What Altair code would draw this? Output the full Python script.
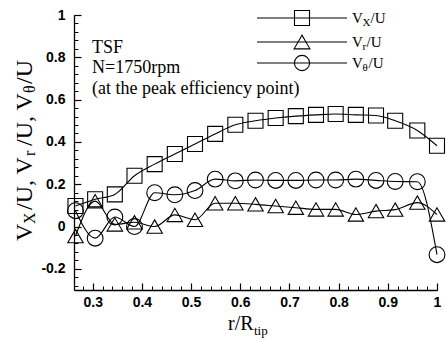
import altair as alt
import pandas as pd

# ---- data ----
r_pos = [0.265, 0.305, 0.345, 0.385, 0.426, 0.467, 0.508, 0.549, 0.590, 0.631,
         0.672, 0.713, 0.754, 0.794, 0.835, 0.876, 0.915, 0.960, 1.000]
vx_u = [0.097, 0.129, 0.152, 0.240, 0.295, 0.343, 0.390, 0.438, 0.481, 0.500,
        0.513, 0.522, 0.528, 0.532, 0.528, 0.525, 0.500, 0.454, 0.382]
vr_u = [-0.045, 0.120, 0.010, 0.020, 0.000, 0.055, 0.032, 0.110, 0.110, 0.105,
        0.097, 0.089, 0.081, 0.081, 0.057, 0.073, 0.080, 0.113, 0.057]
vt_u = [0.075, -0.055, 0.045, 0.000, 0.160, 0.150, 0.170, 0.224, 0.216, 0.220,
        0.218, 0.218, 0.220, 0.220, 0.224, 0.218, 0.213, 0.212, -0.133]
series_names = ["Vx", "Vr", "Vt"]
series_shapes = ["square", "triangle-up", "circle"]
series_sizes = [225, 250, 230]

y_major = [-0.2, 0, 0.2, 0.4, 0.6, 0.8, 1.0]
y_minor = [round(-0.28 + 0.04 * i, 2) for i in range(33)]
x_major = [0.3, 0.4, 0.5, 0.6, 0.7, 0.8, 0.9, 1.0]
x_minor = [round(0.28 + 0.02 * i, 2) for i in range(37)]

W, H = 363, 275
SERIF = "Liberation Serif"
SANS = "Liberation Sans"

rows = []
for name, vals in zip(series_names, [vx_u, vr_u, vt_u]):
    for rr, v in zip(r_pos, vals):
        rows.append({"r": rr, "v": v, "s": name})
df = pd.DataFrame(rows)

xscale = alt.Scale(domain=[0.262, 1.0], nice=False, zero=False)
yscale = alt.Scale(domain=[-0.3, 1.0], nice=False, zero=False)

# major axes: domain, labels and inward ticks (negative tick length via expression)
xaxis = alt.Axis(values=x_major, format="~g", title=None, grid=False, orient="bottom",
                 ticks=True, tickSize={"expr": "-7"}, tickColor="black", tickWidth=1.2,
                 domain=True, domainColor="black", domainWidth=1.3,
                 labelFont=SANS, labelFontWeight="bold", labelFontSize=14, labelColor="black",
                 labelPadding=12, labelFlush=False, labelOverlap=False)
yaxis = alt.Axis(values=y_major, title=None, grid=False, orient="left",
                 ticks=True, tickSize={"expr": "-7"}, tickColor="black", tickWidth=1.2,
                 domain=True, domainColor="black", domainWidth=1.3,
                 labelExpr="datum.value < 0 ? '-' + format(-datum.value, '~g') : format(datum.value, '~g')",
                 labelFont=SANS, labelFontWeight="bold", labelFontSize=14, labelColor="black",
                 labelPadding=16, labelFlush=False, labelOverlap=False)
# minor axes: inward short ticks only
xaxis_minor = alt.Axis(values=x_minor, title=None, grid=False, orient="bottom", labels=False,
                       domain=False, ticks=True, tickSize={"expr": "-4"}, tickColor="black",
                       tickWidth=1)
yaxis_minor = alt.Axis(values=y_minor, title=None, grid=False, orient="left", labels=False,
                       domain=False, ticks=True, tickSize={"expr": "-4"}, tickColor="black",
                       tickWidth=1)

base = alt.Chart(df)
lines = base.mark_line(color="black", strokeWidth=1.1, interpolate="monotone").encode(
    x=alt.X("r:Q", scale=xscale, axis=xaxis),
    y=alt.Y("v:Q", scale=yscale, axis=yaxis),
    detail="s:N",
)
points = base.mark_point(filled=False, color="black", strokeWidth=1.1, opacity=1).encode(
    x=alt.X("r:Q", scale=xscale, axis=xaxis_minor),
    y=alt.Y("v:Q", scale=yscale, axis=yaxis_minor),
    shape=alt.Shape("s:N", scale=alt.Scale(domain=series_names, range=series_shapes), legend=None),
    size=alt.Size("s:N", scale=alt.Scale(domain=series_names, range=series_sizes), legend=None),
)

one = pd.DataFrame({"a": [0]})


def txt(text, x, y, size, angle=0, font=SERIF, weight="normal"):
    return alt.Chart(one).mark_text(text=text, font=font, fontSize=size, fontWeight=weight,
                                    align="left", baseline="alphabetic", angle=angle,
                                    color="black").encode(x=alt.value(x), y=alt.value(y))


OX, OY = 74, 15  # plot origin in page coords
layers = [lines, points]

# annotation
layers += [
    txt("TSF", 92 - OX, 53 - OY, 18),
    txt("N=1750rpm", 92 - OX, 73 - OY, 18),
    txt("(at the peak efficiency point)", 92 - OX, 94 - OY, 18),
]

# legend
leg_rows = [18, 42, 63]
leg_subs = ["X", "r", "θ"]
leg_sub_w = [8, 4, 6]
for yy, shp, sz, sub, sw in zip(leg_rows, series_shapes, series_sizes, leg_subs, leg_sub_w):
    layers.append(alt.Chart(one).mark_rule(color="black", strokeWidth=1.1).encode(
        x=alt.value(257 - OX), x2=alt.value(347 - OX), y=alt.value(yy - OY)))
    layers.append(alt.Chart(one).mark_point(shape=shp, size=sz, filled=False, color="black",
                                            strokeWidth=1.1, opacity=1).encode(
        x=alt.value(302 - OX), y=alt.value(yy - OY)))
    layers.append(txt("V", 352 - OX, yy + 5 - OY, 15))
    layers.append(txt(sub, 362.5 - OX, yy + 8 - OY, 11))
    layers.append(txt("/U", 362.5 + sw - OX, yy + 5 - OY, 15))

# x title
layers += [txt("r/R", 228 - OX, 330 - OY, 20), txt("tip", 254 - OX, 335 - OY, 13)]

# y title (rotated, with subscripts)
ysegs = [("V", 241, 24, 32), ("X", 224, 16, 35), ("/U, V", 210, 24, 32), ("r", 156, 16, 35),
         ("/U, V", 146, 24, 32), ("θ", 93, 16, 35), ("/U", 84, 24, 32)]
for t, ystart, sz, xb in ysegs:
    layers.append(txt(t, xb - OX, ystart - OY, sz, angle=270))

chart = alt.layer(*layers).resolve_axis(x="independent", y="independent").properties(
    width=W, height=H,
    autosize=alt.AutoSizeParams(type="none"),
    padding={"left": OX, "top": OY, "right": 446 - OX - W, "bottom": 340 - OY - H},
    background="white",
).configure_view(stroke=None)

chart.save("out.html", embed_options={"renderer": "svg", "actions": False})
